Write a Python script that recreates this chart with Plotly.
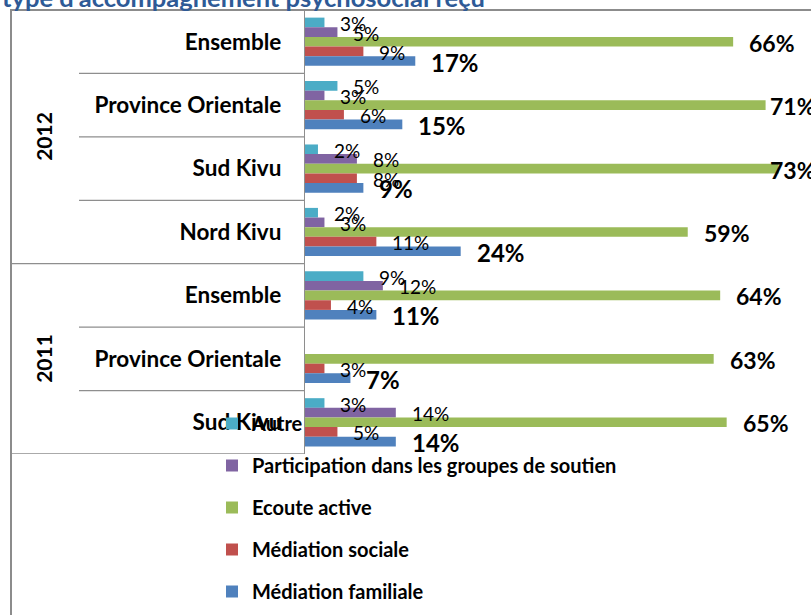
import plotly.graph_objects as go

# ---------------- data ----------------
years = ["2012", "2012", "2012", "2012", "2011", "2011", "2011"]
regions = ["Ensemble", "Province Orientale", "Sud Kivu", "Nord Kivu",
           "Ensemble", "Province Orientale", "Sud Kivu"]
series_names = ["Autre", "Participation dans les groupes de soutien",
                "Ecoute active", "Médiation sociale", "Médiation familiale"]
autre = [3, 5, 2, 2, 9, None, 3]
participation = [5, 3, 8, 3, 12, None, 14]
ecoute = [66, 71, 73, 59, 64, 63, 65]
med_sociale = [9, 6, 8, 11, 4, 3, 5]
med_familiale = [17, 15, 9, 24, 11, 7, 14]
title_text = "type d'accompagnement psychosocial reçu"

# ---------------- styles ----------------
series_values = [autre, participation, ecoute, med_sociale, med_familiale]
colors = ["#4BACC6", "#8064A2", "#9BBB59", "#C0504D", "#4F81BD"]
label_sizes = [19, 19, 23, 19, 24]
label_bold = [False, False, True, False, True]
FONT = "Lato"
W, H = 811, 615
L, R, T, B = 305, 0, 10, 161
plot_w = W - L - R
plot_h = H - T - B
BARGAP = 0.24
XMAX = 78.0


def px_to_paper_x(px):
    return (px - L) / plot_w


def px_to_paper_y(py):
    return (H - B - py) / plot_h


pos = list(range(len(regions)))

fig = go.Figure()
for name, vals, col in zip(series_names, series_values, colors):
    fig.add_trace(go.Bar(
        x=vals, y=pos, orientation="h", name=name,
        marker=dict(color=col, line=dict(width=0)),
        legendgroup=name, hoverinfo="skip",
    ))

# data labels (pushed back inside the chart when they would overflow)
n = len(series_names)
bw = (1 - BARGAP) / n
annotations = []
for i, vals in enumerate(series_values):
    off = -(1 - BARGAP) / 2 + (i + 0.5) * bw
    for j, v in enumerate(vals):
        if v is None:
            continue
        txt = f"{v}%"
        est_w = label_sizes[i] * 0.62 * len(txt)
        end_px = L + v * plot_w / XMAX
        shift = min(14, W - est_w - end_px)
        annotations.append(dict(
            x=v, y=j + off, xref="x", yref="y", text=txt,
            showarrow=False, xanchor="left", yanchor="middle",
            xshift=shift, yshift=-1,
            font=dict(family=FONT, size=label_sizes[i], color="#000",
                      weight="bold" if label_bold[i] else "normal"),
        ))

# year labels (outer category level)
for yr in dict.fromkeys(years):
    idx = [k for k, y in enumerate(years) if y == yr]
    annotations.append(dict(
        x=px_to_paper_x(44), xref="paper", xanchor="center",
        y=sum(idx) / len(idx), yref="y", yanchor="middle",
        text=yr, textangle=-90, showarrow=False,
        font=dict(family=FONT, size=21, color="#000", weight="bold"),
    ))

# cropped title
annotations.append(dict(
    x=px_to_paper_x(0), xref="paper", y=1, yref="paper",
    xanchor="left", yanchor="bottom", yshift=-4, text=title_text,
    showarrow=False,
    font=dict(family=FONT, size=25.5, color="#2E5A96", weight="bold"),
))

# separators of the category area
shapes = []
line_col = "#8E8E8E"
for k in range(len(regions) - 1):
    same = years[k] == years[k + 1]
    shapes.append(dict(
        type="line", xref="paper", yref="y",
        x0=px_to_paper_x(79 if same else 11), x1=0, y0=k + 0.5, y1=k + 0.5,
        line=dict(color=line_col, width=1.3),
    ))
shapes.append(dict(type="line", xref="paper", yref="y",
                   x0=px_to_paper_x(11), x1=0,
                   y0=len(regions) - 0.5, y1=len(regions) - 0.5,
                   line=dict(color=line_col, width=1.3)))
# chart frame
shapes.append(dict(type="line", xref="paper", yref="paper",
                   x0=px_to_paper_x(11), x1=px_to_paper_x(11),
                   y0=1, y1=px_to_paper_y(H + 5),
                   line=dict(color="#8C8C8C", width=2)))
shapes.append(dict(type="line", xref="paper", yref="paper",
                   x0=px_to_paper_x(10), x1=1.05, y0=1, y1=1,
                   line=dict(color="#8C8C8C", width=2)))

fig.update_layout(
    width=W, height=H,
    margin=dict(l=L, r=R, t=T, b=B, autoexpand=False),
    paper_bgcolor="white", plot_bgcolor="white",
    barmode="group", bargap=BARGAP, bargroupgap=0,
    font=dict(family=FONT, color="#000"),
    showlegend=True,
    legend=dict(
        x=px_to_paper_x(212), y=px_to_paper_y(404),
        xanchor="left", yanchor="top",
        bgcolor="rgba(0,0,0,0)", traceorder="grouped",
        tracegroupgap=13,
        font=dict(family=FONT, size=20, color="#000", weight="bold"),
    ),
    xaxis=dict(range=[0, XMAX], showgrid=False, zeroline=False,
               showticklabels=False, ticks="", showline=False,
               fixedrange=True),
    yaxis=dict(range=[len(regions) - 0.5, -0.5], tickvals=pos,
               ticktext=regions, showgrid=False, zeroline=False,
               showline=True, linecolor=line_col, linewidth=1.3,
               ticks="outside", ticklen=18, tickcolor="rgba(0,0,0,0)",
               tickfont=dict(family=FONT, size=22.5, color="#000",
                             weight="bold"),
               automargin=False, fixedrange=True),
    annotations=annotations,
    shapes=shapes,
)

fig.write_html(
    "out.html",
    config={"displayModeBar": False},
    post_script="document.body.style.margin='0';document.body.style.padding='0';",
)
